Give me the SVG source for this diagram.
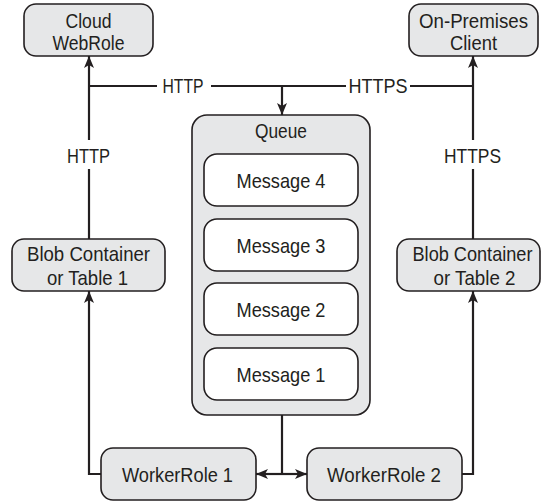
<svg xmlns="http://www.w3.org/2000/svg" width="542" height="503" viewBox="0 0 542 503">
<style>
  .box { fill: #e6e7e8; stroke: #231f20; stroke-width: 1.6; }
  .msg { fill: #ffffff; stroke: #231f20; stroke-width: 1.6; }
  .lbl { font-family: "Liberation Sans", Arial, sans-serif; font-size: 21px; fill: #231f20; text-anchor: middle; }
  .ln { fill: none; stroke: #231f20; stroke-width: 2.2; }
  .thin { fill: none; stroke: #231f20; stroke-width: 1.8; }
</style>
<defs>
  <marker id="arr" viewBox="0 0 12 10" refX="12" refY="5" markerWidth="12" markerHeight="10" markerUnits="userSpaceOnUse" orient="auto">
    <path d="M0,0 L12,5 L0,10 L3,5 z" fill="#231f20"/>
  </marker>
</defs>
<rect width="542" height="503" fill="#ffffff"/>

<g id="connectors">
  <path class="ln" d="M89,239 V169"/>
  <path class="ln" d="M89,140 V56" marker-end="url(#arr)"/>
  <path class="ln" d="M101,474 H89 V291" marker-end="url(#arr)"/>
  <path class="thin" d="M89,86 H157"/>
  <path class="thin" d="M211,86 H346"/>
  <path class="thin" d="M410,86 H473"/>
  <path class="ln" d="M282,86 V115" marker-end="url(#arr)"/>
  <path class="ln" d="M473,239 V169"/>
  <path class="ln" d="M473,140 V56" marker-end="url(#arr)"/>
  <path class="ln" d="M462,474 H473 V291" marker-end="url(#arr)"/>
  <path class="ln" d="M282,415 V474"/>
  <path class="ln" d="M282,474 H256" marker-end="url(#arr)"/>
  <path class="ln" d="M282,474 H307" marker-end="url(#arr)"/>
  <text class="lbl" x="183" y="93" textLength="41" lengthAdjust="spacingAndGlyphs">HTTP</text>
  <text class="lbl" x="378" y="93" textLength="59" lengthAdjust="spacingAndGlyphs">HTTPS</text>
  <text class="lbl" x="88.5" y="163" textLength="43" lengthAdjust="spacingAndGlyphs">HTTP</text>
  <text class="lbl" x="472.5" y="163" textLength="57" lengthAdjust="spacingAndGlyphs">HTTPS</text>
</g>

<g id="cloud-webrole">
  <rect class="box" x="24" y="4" width="129" height="52" rx="12"/>
  <text class="lbl" x="88.5" y="28" textLength="46" lengthAdjust="spacingAndGlyphs">Cloud</text>
  <text class="lbl" x="88.5" y="50" textLength="72" lengthAdjust="spacingAndGlyphs">WebRole</text>
</g>

<g id="on-premises-client">
  <rect class="box" x="409" y="4" width="129" height="52" rx="12"/>
  <text class="lbl" x="473.5" y="28" textLength="109" lengthAdjust="spacingAndGlyphs">On-Premises</text>
  <text class="lbl" x="473.5" y="50" textLength="47" lengthAdjust="spacingAndGlyphs">Client</text>
</g>

<g id="queue">
  <rect class="box" x="192" y="115" width="178" height="300" rx="15"/>
  <text class="lbl" x="281" y="138" textLength="52" lengthAdjust="spacingAndGlyphs">Queue</text>
</g>

<g id="message-4">
  <rect class="msg" x="204" y="154" width="154" height="52" rx="13"/>
  <text class="lbl" x="281" y="188" textLength="89" lengthAdjust="spacingAndGlyphs">Message 4</text>
</g>
<g id="message-3">
  <rect class="msg" x="204" y="219" width="154" height="52" rx="13"/>
  <text class="lbl" x="281" y="253" textLength="89" lengthAdjust="spacingAndGlyphs">Message 3</text>
</g>
<g id="message-2">
  <rect class="msg" x="204" y="283" width="154" height="52" rx="13"/>
  <text class="lbl" x="281" y="317" textLength="89" lengthAdjust="spacingAndGlyphs">Message 2</text>
</g>
<g id="message-1">
  <rect class="msg" x="204" y="348" width="154" height="52" rx="13"/>
  <text class="lbl" x="281" y="382" textLength="89" lengthAdjust="spacingAndGlyphs">Message 1</text>
</g>

<g id="blob-1">
  <rect class="box" x="12" y="239" width="153" height="52" rx="12"/>
  <text class="lbl" x="88.5" y="261" textLength="123" lengthAdjust="spacingAndGlyphs">Blob Container</text>
  <text class="lbl" x="87.5" y="285" textLength="81" lengthAdjust="spacingAndGlyphs">or Table 1</text>
</g>

<g id="blob-2">
  <rect class="box" x="397" y="239" width="143" height="52" rx="12"/>
  <text class="lbl" x="472.5" y="261" textLength="120" lengthAdjust="spacingAndGlyphs">Blob Container</text>
  <text class="lbl" x="474.5" y="285" textLength="82" lengthAdjust="spacingAndGlyphs">or Table 2</text>
</g>

<g id="workerrole-1">
  <rect class="box" x="101" y="448" width="155" height="52" rx="12"/>
  <text class="lbl" x="177.5" y="482" textLength="111" lengthAdjust="spacingAndGlyphs">WorkerRole 1</text>
</g>

<g id="workerrole-2">
  <rect class="box" x="307" y="448" width="155" height="52" rx="12"/>
  <text class="lbl" x="384" y="482" textLength="114" lengthAdjust="spacingAndGlyphs">WorkerRole 2</text>
</g>
</svg>
